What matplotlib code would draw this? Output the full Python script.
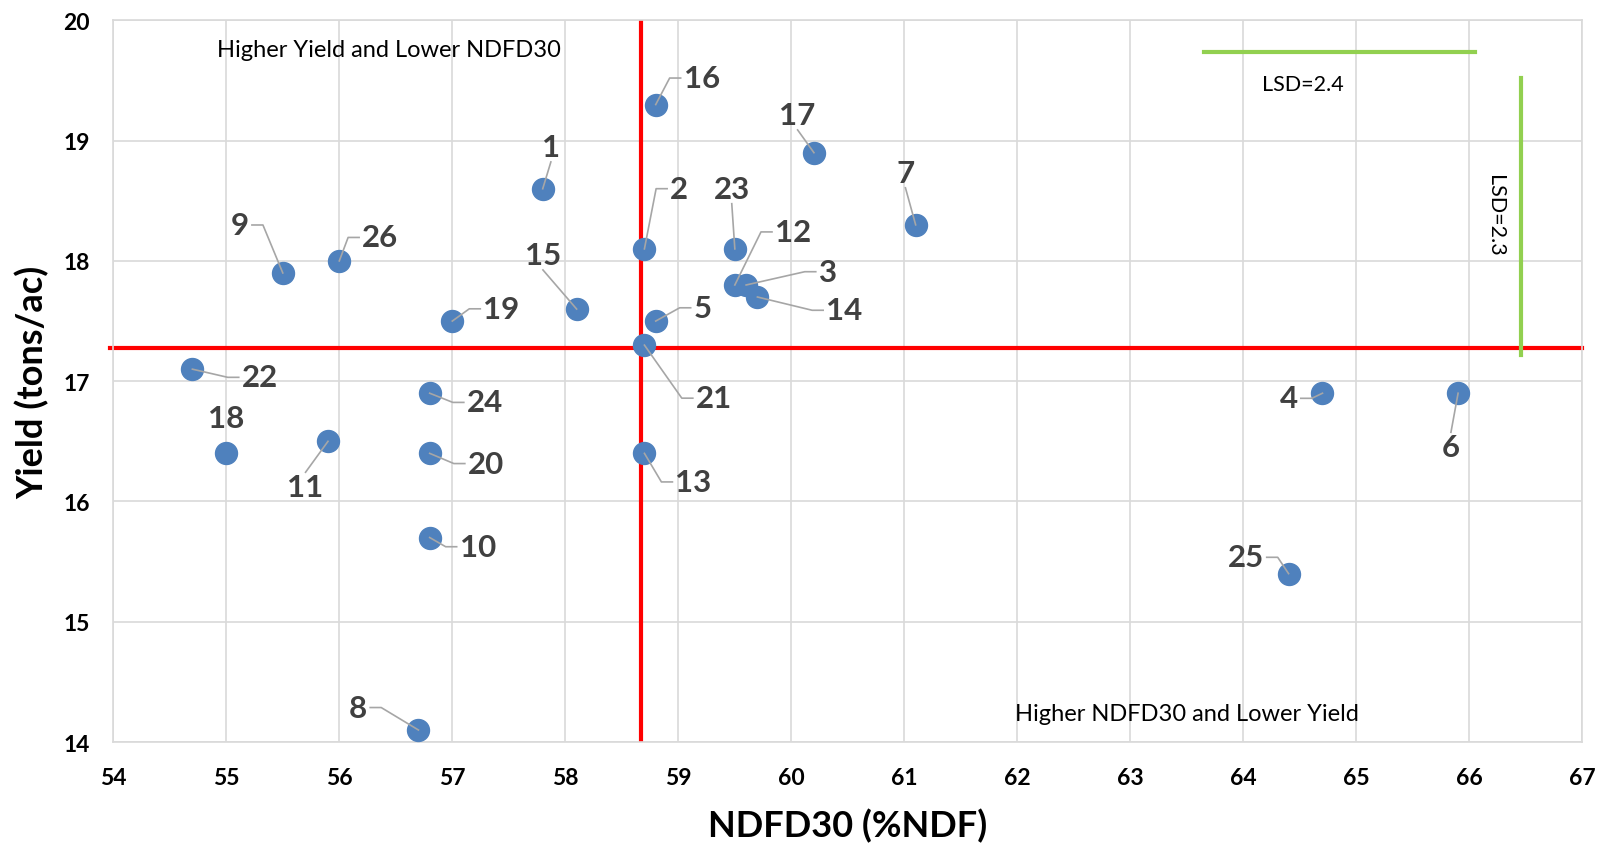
import numpy as np
import matplotlib.pyplot as plt

plt.rcParams['font.family'] = ['Lato', 'DejaVu Sans']

# Hybrid numbers and their values
hybrids = [str(i) for i in range(1, 27)]
ndfd30 = [57.8, 58.7, 59.6, 64.7, 58.8, 65.9, 61.1, 56.7, 55.5, 56.8, 55.9, 59.5, 58.7,
          59.7, 58.1, 58.8, 60.2, 55.0, 57.0, 56.8, 58.7, 54.7, 59.5, 56.8, 64.4, 56.0]
yield_t = [18.6, 18.1, 17.8, 16.9, 17.5, 16.9, 18.3, 14.1, 17.9, 15.7, 16.5, 17.8, 16.4,
           17.7, 17.6, 19.3, 18.9, 16.4, 17.5, 16.4, 17.3, 17.1, 18.1, 16.9, 15.4, 18.0]
lsd_ndfd = 2.4
lsd_yield = 2.3

x_ticks = list(range(54, 68))
y_ticks = list(range(14, 21))

# label offsets from the point in pixels (dx right, dy down) and leader side
label_off = {
    '1': (8, -41, 'B'), '2': (34, -59, 'L'), '3': (80, -13, 'L'), '4': (-33, 5, 'R'),
    '5': (46, -13, 'L'), '6': (-7, 53, 'T'), '7': (-10, -51, 'B'), '8': (-59, -22, 'R'),
    '9': (-42, -47, 'R'), '10': (47, 9, 'L'), '11': (-22, 45, 'T'), '12': (57, -52, 'L'),
    '13': (48, 28, 'L'), '14': (85, 13, 'L'), '15': (-33, -53, 'B'), '16': (45, -26, 'L'),
    '17': (-16, -37, 'B'), '18': (0, -35, None), '19': (48, -12, 'L'), '20': (55, 10, 'L'),
    '21': (68, 52, 'L'), '22': (66, 8, 'L'), '23': (-3, -59, 'B'), '24': (54, 9, 'L'),
    '25': (-42, -16, 'R'), '26': (40, -23, 'L'),
}

fig = plt.figure(figsize=(16, 8.45), dpi=100)
ax = fig.add_axes([0.0708, 0.1207, 0.9182, 0.854])
ax.set_xlim(54, 67)
ax.set_ylim(14, 20)
ax.set_xticks(x_ticks)
ax.set_yticks(y_ticks)
ax.grid(True, color='#D9D9D9', linewidth=1.2)
ax.set_axisbelow(True)
for s in ax.spines.values():
    s.set_color('#D9D9D9')
    s.set_linewidth(1.2)
ax.tick_params(length=0, labelsize=16.5, pad=18)
ax.tick_params(axis='y', pad=17)
for lab in ax.get_xticklabels() + ax.get_yticklabels():
    lab.set_fontweight('bold')

ax.set_xlabel('NDFD30 (%NDF)', fontsize=26, fontweight='bold', labelpad=14)
ax.set_ylabel('Yield (tons/ac)', fontsize=26, fontweight='bold', labelpad=10)

ax.scatter(ndfd30, yield_t, s=250, color='#4F81BD', zorder=3, clip_on=False)

# pixel -> data conversion
bbox = ax.get_window_extent()
ppx = bbox.width / 13.0
ppy = bbox.height / 6.0
sc = 1600 / 1568

for h, x, y in zip(hybrids, ndfd30, yield_t):
    dx, dy, side = label_off[h]
    dx *= sc
    dy *= sc
    lx = x + dx / ppx
    ly = y - dy / ppy
    ax.text(lx, ly, h, fontsize=22.5, fontweight='bold', color='#404040',
            ha='center', va='center', zorder=5)
    hw = (8 if len(h) == 1 else 17) + 4
    hh = 15
    if side == 'L':
        fx, fy = dx - hw, dy
        ex, ey = fx - 11, fy
        pts = [(fx, fy), (ex, ey), (0, 0)]
    elif side == 'R':
        fx, fy = dx + hw, dy
        ex, ey = fx + 11, fy
        pts = [(fx, fy), (ex, ey), (0, 0)]
    elif side == 'B':
        pts = [(dx, dy + hh), (0, 0)]
    elif side == 'T':
        pts = [(dx, dy - hh), (0, 0)]
    else:
        continue
    xs = [x + p[0] / ppx for p in pts]
    ys = [y - p[1] / ppy for p in pts]
    ax.plot(xs, ys, color='#A6A6A6', linewidth=1.2, zorder=4)

# mean lines
mx = np.mean(ndfd30)
my = np.mean(yield_t)
ax.axvline(mx, color='#FF0000', linewidth=3, zorder=2)
ax.plot([53.97, 67], [my, my], color='#FF0000', linewidth=3, zorder=2, clip_on=False)

# LSD bars
ax.plot([63.65, 63.65 + lsd_ndfd], [19.74, 19.74], color='#92D050', linewidth=3, zorder=2)
ax.plot([66.46, 66.46], [17.22, 17.22 + lsd_yield], color='#92D050', linewidth=3, zorder=2)
ax.text(64.53, 19.47, 'LSD=%.1f' % lsd_ndfd, fontsize=15.5, ha='center', va='center',
        bbox=dict(facecolor='white', edgecolor='none', pad=3), zorder=2)
ax.text(66.23, 18.38, 'LSD=%.1f' % lsd_yield, fontsize=15.5, ha='center', va='center',
        rotation=270, bbox=dict(facecolor='white', edgecolor='none', pad=3), zorder=2)

ax.text(56.44, 19.76, 'Higher Yield and Lower NDFD30', fontsize=17, ha='center', va='center')
ax.text(63.50, 14.24, 'Higher NDFD30 and Lower Yield', fontsize=17, ha='center', va='center')

fig.savefig('out.png', dpi=100)
